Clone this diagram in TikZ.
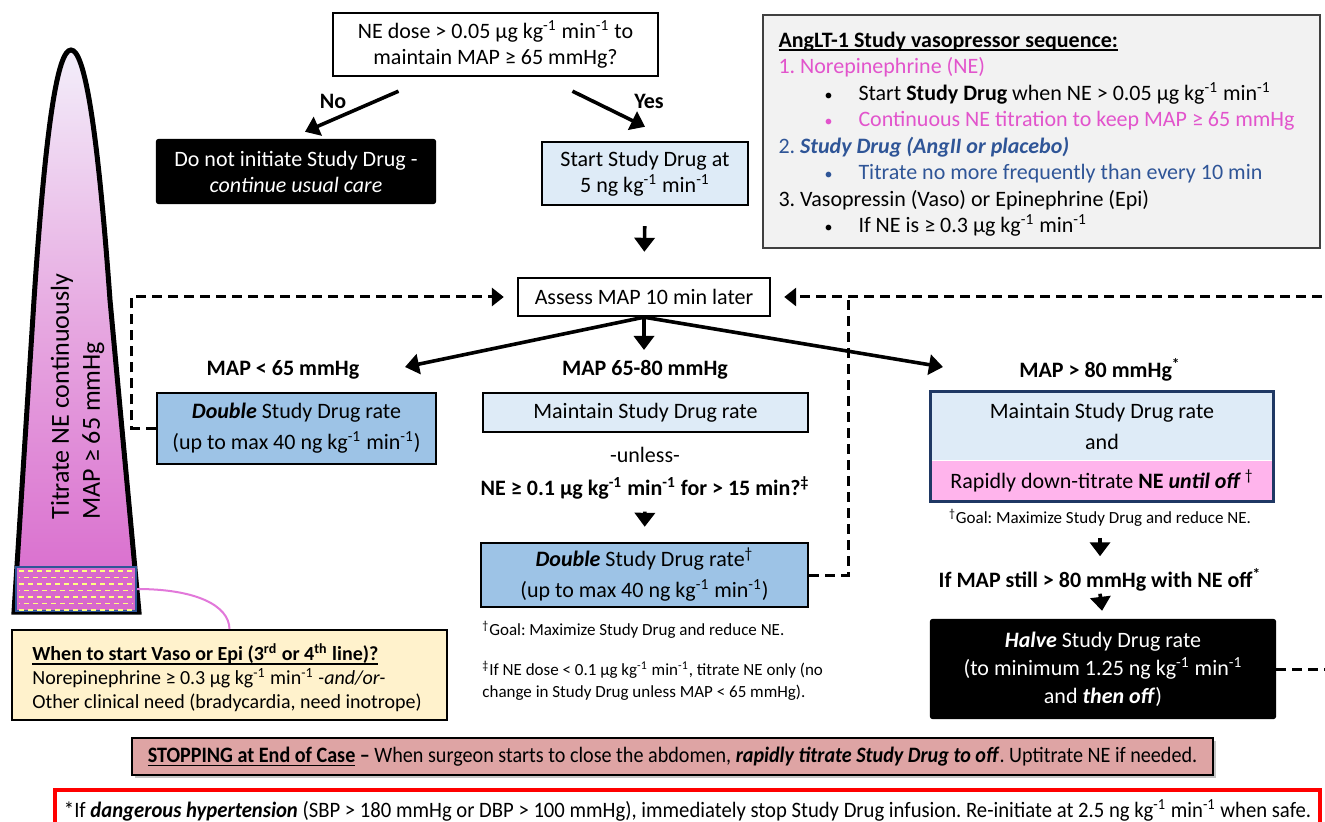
\documentclass[tikz,border=0pt]{standalone}
\usepackage{fontspec}
\setmainfont{Carlito}
\usepackage{graphicx}
\usetikzlibrary{arrows.meta, positioning, shadows}

\definecolor{paleblue}{RGB}{222,235,247}
\definecolor{midblue}{RGB}{157,195,230}
\definecolor{softpink}{RGB}{255,180,236}
\definecolor{nepink}{RGB}{226,84,204}
\definecolor{angblue}{RGB}{47,85,151}
\definecolor{navyline}{RGB}{31,56,100}
\definecolor{seqgrey}{RGB}{242,242,242}
\definecolor{cream}{RGB}{255,242,204}
\definecolor{stoprose}{RGB}{222,164,164}
\definecolor{conetop}{RGB}{243,238,250}
\definecolor{conemid}{RGB}{230,166,224}
\definecolor{conebot}{RGB}{216,104,204}
\definecolor{linkpink}{RGB}{226,120,218}
\definecolor{dashyellow}{RGB}{255,255,128}

\newcommand{\kgmin}{kg\textsuperscript{-1} min\textsuperscript{-1}}
\newcommand{\seqitem}[2]{\hspace*{23pt}\makebox[17pt][l]{\textcolor{#1}{\fontsize{8}{8}\selectfont•}}\textcolor{#1}{#2}}
\newlength{\ulwd}
\newcommand{\undertext}[1]{\settowidth{\ulwd}{#1}\rlap{\rule[-1.8pt]{\ulwd}{0.7pt}}#1}
\frenchspacing

\begin{document}
\begin{tikzpicture}[
    x=0.5pt, y=-0.5pt,
    txt/.style={font=\fontsize{11}{13}\selectfont, align=center, inner sep=1pt},
    lbl/.style={txt, font=\fontsize{11}{13}\selectfont\bfseries},
    note/.style={txt, font=\fontsize{8.5}{11}\selectfont},
    box/.style={txt, draw=black, line width=1.2pt, inner sep=0pt},
    darkbox/.style={box, fill=black, text=white, rounded corners=1pt},
    arrow/.style={-{Triangle[length=7pt, width=10pt]}, line width=1.8pt},
    dashline/.style={line width=1.5pt, dash pattern=on 5pt off 3pt},
    dasharrow/.style={dashline, -{Triangle[length=6pt, width=9pt]}, shorten >=6.5pt}
]
\clip (0,0) rectangle (1325,822);
\fill[white] (0,0) rectangle (1325,822);

% left cone
\path[top color=conetop, bottom color=conebot, middle color=conemid, draw=black, line width=2.5pt]
    (14,612) -- (34,300) .. controls (46,120) and (58,50) .. (71,50)
    .. controls (84,50) and (97,120) .. (110,300) -- (139,612) -- cycle;
\node[draw=angblue, fill=conebot, line width=1pt, minimum width=60pt, minimum height=22pt, inner sep=0pt] (vasobar) at (76,589) {};
\foreach \r/\ph in {0/0pt,1/2pt,2/0pt,3/2pt,4/0pt,5/2pt,6/0pt}
    \draw[dashyellow, line width=0.9pt, dash pattern=on 2.5pt off 2pt, dash phase=\ph] (19,571+6.5*\r) -- (133,571+6.5*\r);
\node[rotate=90, anchor=west, align=left, inner sep=0pt, font=\fontsize{13}{15.5}\selectfont] (conetxt) at (77.5,520) {Titrate NE continuously\\MAP ≥ 65 mmHg};

\node[draw=black, fill=cream, line width=1pt, minimum width=217.5pt, minimum height=45pt, inner sep=0pt] (when) at (229.5,675) {};
\node[align=left, inner sep=0pt, font=\fontsize{10}{12}\selectfont] (whentxt) at (227,678)
    {\textbf{\undertext{When to start Vaso or Epi (3\textsuperscript{rd} or 4\textsuperscript{th} line)?}}\\
     Norepinephrine ≥ 0.3 µg \kgmin{} \textit{-and/or-}\\
     Other clinical need (bradycardia, need inotrope)};
\draw[linkpink, line width=1pt] (vasobar.east) .. controls (195,589) and (229,605) .. (when.north);

% top of the flow
\node[box, minimum width=162.5pt, minimum height=31.5pt] (ask) at (495.5,44.5) {NE dose > 0.05 µg \kgmin{} to\\maintain MAP ≥ 65 mmHg?};
\node[lbl] (nolbl) at (333,101) {No};
\node[lbl] (yeslbl) at (649,101) {Yes};
\node[darkbox, minimum width=139pt, minimum height=31.5pt] (noinit) at (296,171.5) {Do not initiate Study Drug -\\\textit{continue usual care}};
\node[box, fill=paleblue, minimum width=103pt, minimum height=31.5pt] (start) at (645,173.5) {Start Study Drug at\\5 ng \kgmin};
\node[box, minimum width=126pt, minimum height=19pt] (assess) at (644,297) {Assess MAP 10 min later};

\draw[arrow] ([shift={(-97,14)}]ask.south) -- ([shift={(9,-7)}]noinit.north);
\draw[arrow] ([shift={(77,14)}]ask.south) -- ([yshift=7pt]start.north);
\draw[arrow, shorten <=10pt, shorten >=12.5pt] (start.south) -- (assess.north);

\node[draw=black!75, fill=seqgrey, line width=1pt, minimum width=278.5pt, minimum height=116.5pt, inner sep=0pt] (seq) at (1041.5,131.5) {};
\node[align=left, inner sep=0pt, font=\fontsize{11}{13.25}\selectfont] (seqtxt) at (1036.5,134)
    {\textbf{\undertext{AngLT-1 Study vasopressor sequence:}}\\
     \textcolor{nepink}{1. Norepinephrine (NE)}\\
     \seqitem{black}{Start \textbf{Study Drug} when NE > 0.05 µg \kgmin}\\
     \seqitem{nepink}{Continuous NE titration to keep MAP ≥ 65 mmHg}\\
     \textcolor{angblue}{2. \textbf{\textit{Study Drug (AngII or placebo)}}}\\
     \seqitem{angblue}{Titrate no more frequently than every 10 min}\\
     3. Vasopressin (Vaso) or Epinephrine (Epi)\\
     \seqitem{black}{If NE is ≥ 0.3 µg \kgmin}};

% three branches
\coordinate (lowtip) at (405,367);
\coordinate (midtip) at (644,350);
\coordinate (hightip) at (943,367);
\draw[arrow] (assess.south) -- (lowtip);
\draw[arrow] (assess.south) -- (midtip);
\draw[arrow] (assess.south) -- (hightip);

\node[lbl] (lowlbl) at (283,370) {MAP < 65 mmHg};
\node[lbl] (midlbl) at (645,370) {MAP 65-80 mmHg};
\node[lbl] (highlbl) at (1100,370) {MAP > 80 mmHg\textsuperscript{*}};

\node[box, fill=midblue, minimum width=139.5pt, minimum height=35.5pt, font=\fontsize{11}{15.5}\selectfont] (dbl1) at (296.5,428.5) {\textbf{\textit{Double}} Study Drug rate\\(up to max 40 ng \kgmin)};

\node[box, fill=paleblue, minimum width=162.5pt, minimum height=19.5pt] (keep) at (645.5,412.5) {Maintain Study Drug rate};
\node[txt] (unless) at (645,455) {-unless-};
\node[lbl] (cond) at (645,488) {NE ≥ 0.1 µg \kgmin{} for > 15 min?\textsuperscript{‡}};
\node[box, fill=midblue, minimum width=163.5pt, minimum height=32pt, font=\fontsize{11}{15.5}\selectfont] (dbl2) at (644.5,575) {\textbf{\textit{Double}} Study Drug rate\textsuperscript{†}\\(up to max 40 ng \kgmin)};
\draw[arrow, shorten <=5pt, shorten >=7.5pt] (cond.south) -- (dbl2.north);
\node[note, anchor=west] (goal2) at (480,630) {\textsuperscript{†}Goal: Maximize Study Drug and reduce NE.};
\node[note, anchor=north west, align=left] (ddag) at (480,659) {\textsuperscript{‡}If NE dose < 0.1 µg \kgmin, titrate NE only (no\\change in Study Drug unless MAP < 65 mmHg).};

\node[txt, fill=paleblue, minimum width=171pt, minimum height=34pt, inner sep=0pt, font=\fontsize{11}{15.5}\selectfont] (rkeep) at (1102,426) {Maintain Study Drug rate\\and};
\node[txt, fill=softpink, minimum width=171pt, minimum height=20pt, inner sep=0pt, below=0pt of rkeep] (rdown) {Rapidly down-titrate \textbf{NE \textit{until off}}\,\textsuperscript{†}};
\draw[navyline, line width=1.5pt] (rkeep.north west) rectangle (rdown.south east);
\node[note] (goal3) at (1100,518) {\textsuperscript{†}Goal: Maximize Study Drug and reduce NE.};
\node[lbl] (cond3) at (1100,580) {If MAP still > 80 mmHg with NE off\textsuperscript{*}};
\node[darkbox, minimum width=172pt, minimum height=49pt, font=\fontsize{11}{14}\selectfont] (halve) at (1103,669) {\textbf{\textit{Halve}} Study Drug rate\\(to minimum 1.25 ng \kgmin\\and \textbf{\textit{then off}})};
\draw[arrow, shorten <=4.5pt, shorten >=5pt] (goal3.south) -- (cond3.north);
\draw[arrow, shorten >=4pt] (cond3.south) -- (halve.north);

% feedback loops
\coordinate (rjoin) at (848,297);
\coordinate (rloop) at (1345,297);
\draw[dasharrow] (dbl1.west) -- ++(-24,0) |- (assess.west);
\draw[dashline] (dbl2.east) -| (rjoin);
\draw[dasharrow] (halve.east) -| (rloop) -- (assess.east);

% bottom notes
\node[draw=black, fill=stoprose, line width=1.2pt, minimum width=540.5pt, minimum height=18.5pt, inner sep=0pt, drop shadow={shadow xshift=1.5pt, shadow yshift=-1.5pt, fill=black!45}, font=\fontsize{11}{12}\selectfont] (stop) at (672.5,756.5)
    {\scalebox{0.915}[1]{\textbf{\undertext{STOPPING at End of Case} –} When surgeon starts to close the abdomen, \textbf{\textit{rapidly titrate Study Drug to off}}. Uptitrate NE if needed.}};
\node[draw=red, fill=white, line width=2pt, minimum width=632.5pt, minimum height=20pt, inner sep=0pt, font=\fontsize{11}{12}\selectfont] (safe) at (687.5,810)
    {\scalebox{0.94}[1]{*If \textbf{\textit{dangerous hypertension}} (SBP > 180 mmHg or DBP > 100 mmHg), immediately stop Study Drug infusion. Re-initiate at 2.5 ng \kgmin{} when safe.}};
\end{tikzpicture}
\end{document}
